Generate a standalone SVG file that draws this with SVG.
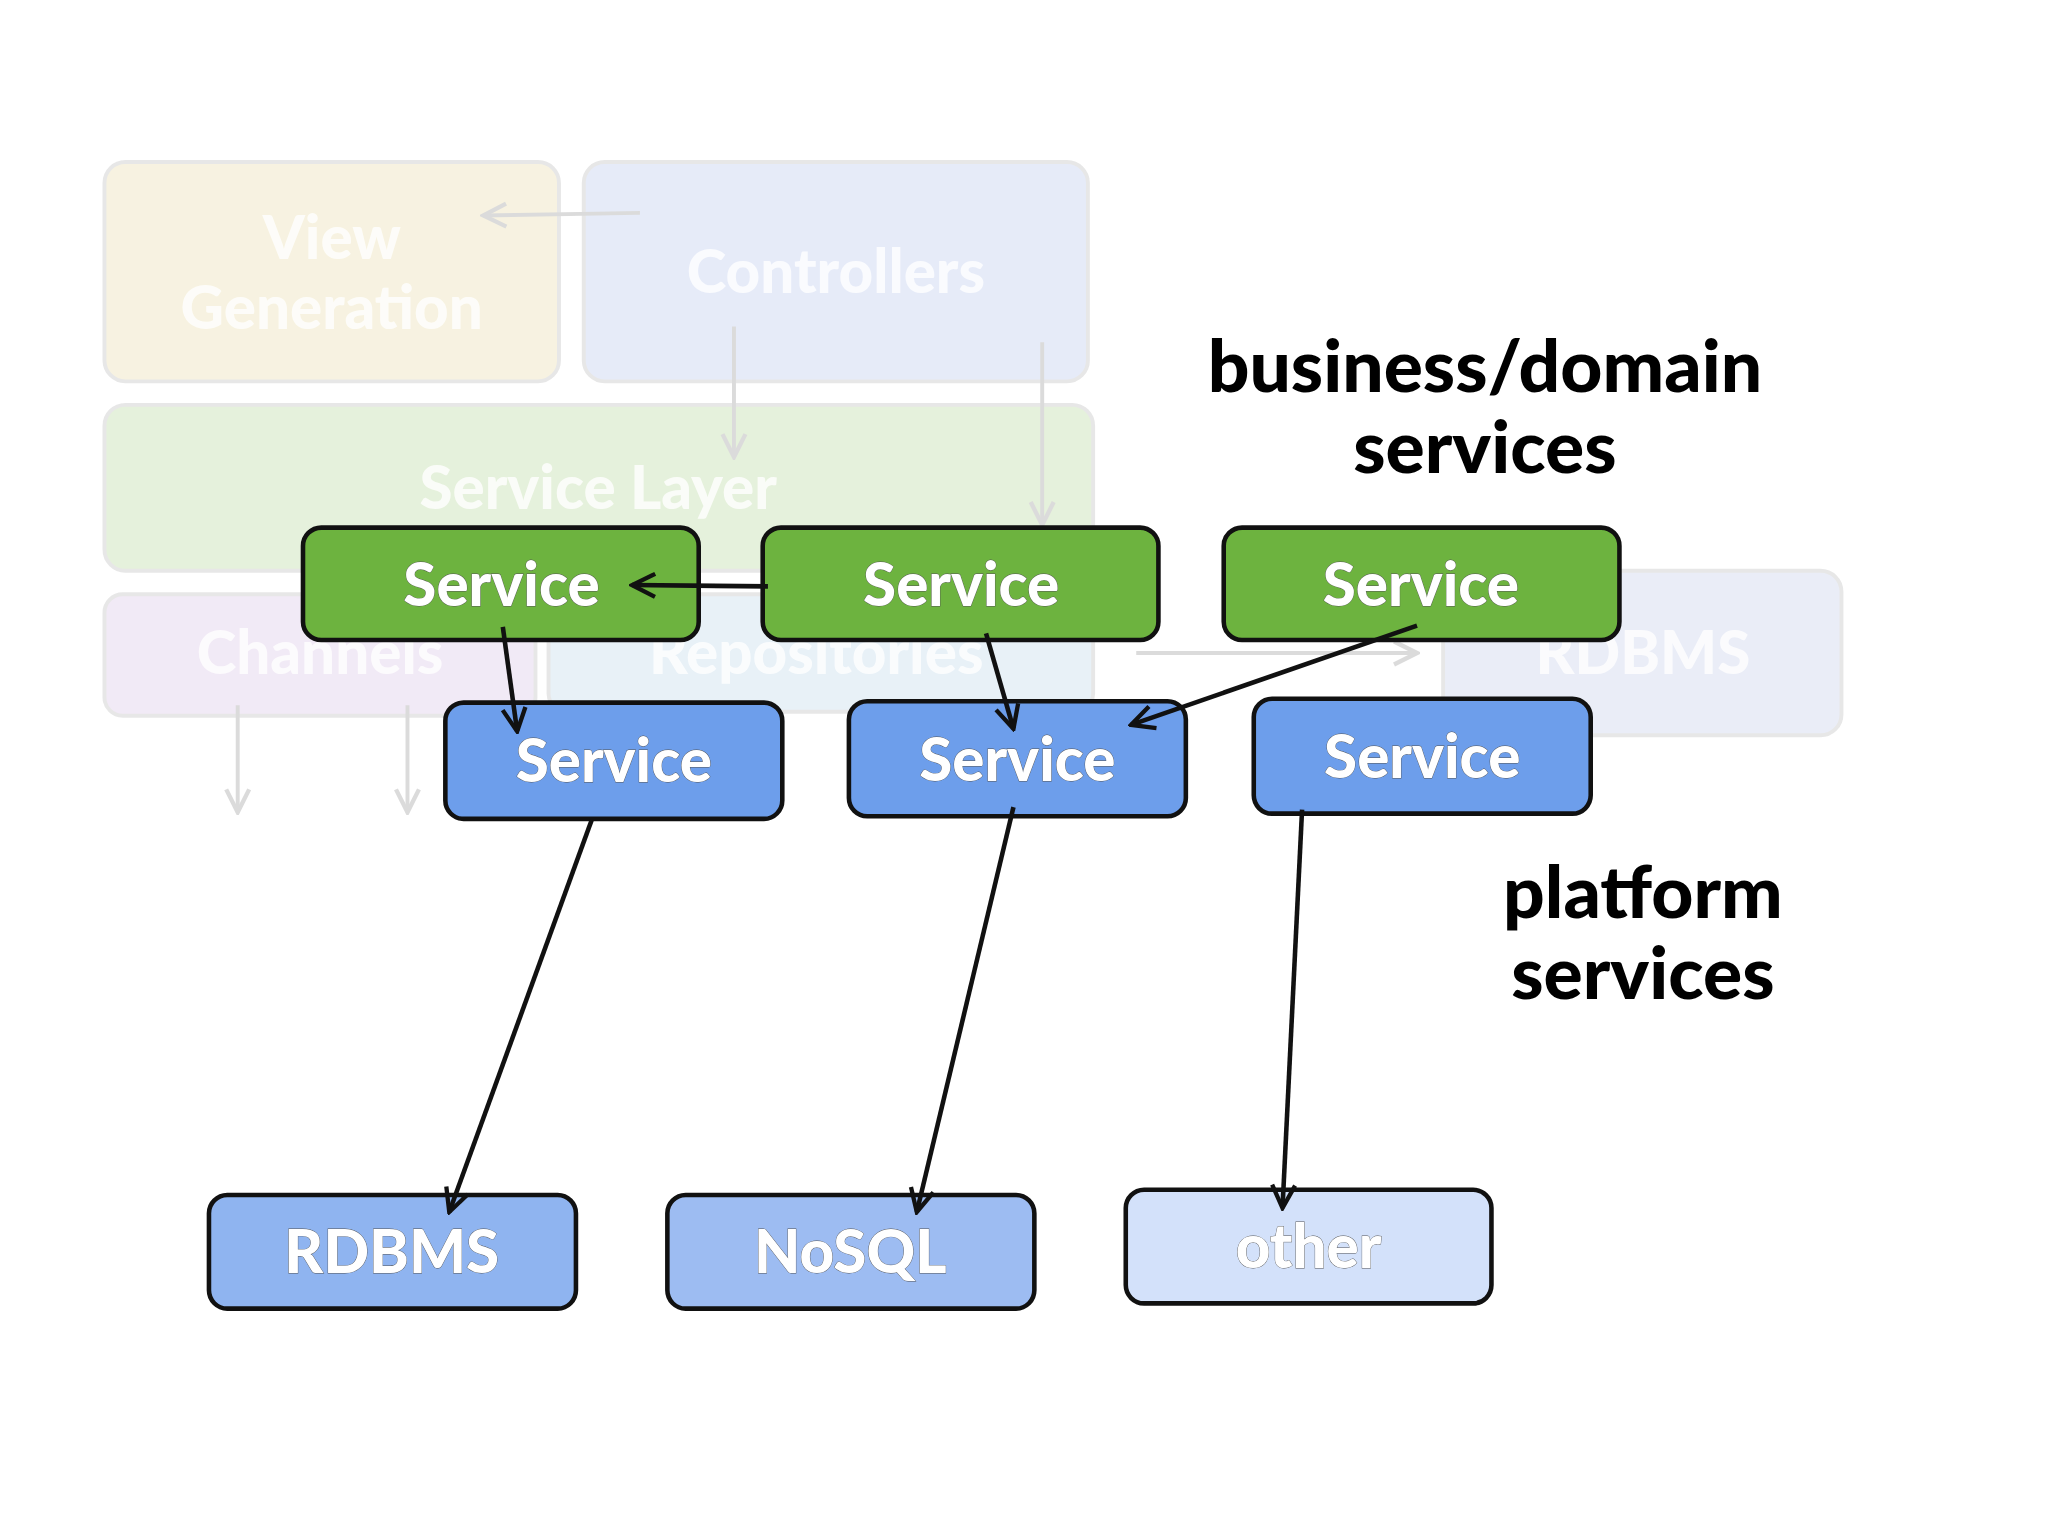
<svg xmlns="http://www.w3.org/2000/svg" width="2048" height="1536" viewBox="0 0 2048 1536">
<defs>
<style>
.t{font-family:Lato,"Open Sans","DejaVu Sans",sans-serif;font-weight:900;text-anchor:middle}
.w{fill:#fff;font-size:46px;stroke:#555;stroke-width:0.6;paint-order:stroke}
.f{fill:#fff;font-size:46px;opacity:.8}
.k{fill:#000;font-size:56px}
.n{stroke:#111;stroke-width:3.5}
.c{stroke:#111;stroke-width:3.5;fill:none;marker-end:url(#a)}
.fc{stroke:#999;stroke-width:3;fill:none;marker-end:url(#fa)}
</style>
<marker id="a" viewBox="0 0 20 20" refX="18" refY="10" markerWidth="22" markerHeight="22" orient="auto" markerUnits="userSpaceOnUse"><path d="M2,2 L18,10 L2,18" fill="none" stroke="#111" stroke-width="3"/></marker>
<marker id="fa" viewBox="0 0 20 20" refX="18" refY="10" markerWidth="22" markerHeight="22" orient="auto" markerUnits="userSpaceOnUse"><path d="M2,2 L18,10 L2,18" fill="none" stroke="#999" stroke-width="3"/></marker>
</defs>
<rect width="2048" height="1536" fill="#fff"/>
<g transform="scale(1.306)">
<g id="background" opacity="0.35">
<g id="viewgen"><rect x="80" y="124" width="348" height="168" rx="16" fill="#e8dba8" stroke="#bbb" stroke-width="3"/><text class="t f" x="254" y="198">View</text><text class="t f" x="254" y="252">Generation</text></g>
<g id="controllers"><rect x="447" y="124" width="386" height="168" rx="16" fill="#b8c6ec" stroke="#bbb" stroke-width="3"/><text class="t f" x="640" y="224">Controllers</text></g>
<g id="servicelayer"><rect x="80" y="310" width="757" height="127" rx="16" fill="#b6d69a" stroke="#bbb" stroke-width="3"/><text class="t f" x="458" y="390">Service Layer</text></g>
<g id="channels"><rect x="80" y="455" width="330" height="93" rx="14" fill="#d8c2e4" stroke="#bbb" stroke-width="3"/><text class="t f" x="245" y="516">Channels</text></g>
<g id="repositories"><rect x="420" y="455" width="417" height="90" rx="14" fill="#bcd6e8" stroke="#bbb" stroke-width="3"/><text class="t f" x="625" y="516">Repositories</text></g>
<g id="rdbmsbg"><rect x="1105" y="437" width="305" height="126" rx="16" fill="#c4cce8" stroke="#bbb" stroke-width="3"/><text class="t f" x="1258" y="516">RDBMS</text></g>
<g id="faded-connectors">
<path class="fc" d="M490,163 L370,165"/><path class="fc" d="M562,250 L562,350"/><path class="fc" d="M798,262 L798,402"/><path class="fc" d="M870,500 L1085,500"/><path class="fc" d="M182,540 L182,622"/><path class="fc" d="M312,540 L312,622"/>
</g>
</g>
<g id="g1"><rect class="n" x="232" y="404" width="303" height="86" rx="14" fill="#6db33f"/><text class="t w" x="384" y="464">Service</text></g>
<g id="g2"><rect class="n" x="584" y="404" width="303" height="86" rx="14" fill="#6db33f"/><text class="t w" x="736" y="464">Service</text></g>
<g id="g3"><rect class="n" x="937" y="404" width="303" height="86" rx="14" fill="#6db33f"/><text class="t w" x="1088" y="464">Service</text></g>
<g id="b1"><rect class="n" x="341" y="538" width="258" height="89" rx="14" fill="#6d9eeb"/><text class="t w" x="470" y="599">Service</text></g>
<g id="b2"><rect class="n" x="650" y="537" width="258" height="88" rx="14" fill="#6d9eeb"/><text class="t w" x="779" y="598">Service</text></g>
<g id="b3"><rect class="n" x="960" y="535" width="258" height="88" rx="14" fill="#6d9eeb"/><text class="t w" x="1089" y="596">Service</text></g>
<g id="rdbms"><rect class="n" x="160" y="915" width="281" height="87" rx="14" fill="#8fb4f0"/><text class="t w" x="300" y="975">RDBMS</text></g>
<g id="nosql"><rect class="n" x="511" y="915" width="281" height="87" rx="14" fill="#9dbcf2"/><text class="t w" x="651" y="975">NoSQL</text></g>
<g id="other"><rect class="n" x="862" y="911" width="280" height="87" rx="14" fill="#d3e1fa"/><text class="t w" x="1002" y="971">other</text></g>
<g id="label1"><text class="t k" x="1137" y="300">business/domain</text><text class="t k" x="1137" y="362">services</text></g>
<g id="label2"><text class="t k" x="1258" y="703">platform</text><text class="t k" x="1258" y="765">services</text></g>
<g id="connectors">
<path class="c" d="M588,449 L484,448"/>
<path class="c" d="M385,480 L396,560"/>
<path class="c" d="M755,485 L776,558"/>
<path class="c" d="M1085,479 L866,555"/>
<path class="c" d="M453,628 L344,928"/>
<path class="c" d="M776,618 L702,928"/>
<path class="c" d="M997,620 L982,925"/>
</g>
</g>
</svg>
